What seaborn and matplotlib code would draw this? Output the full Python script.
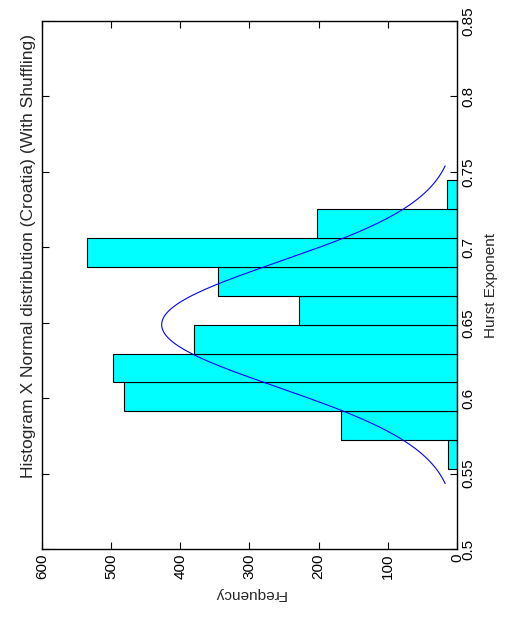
import numpy as np
import pandas as pd
import matplotlib
matplotlib.use("Agg")
import matplotlib.pyplot as plt
import seaborn as sns

# Histogram of Hurst exponents (10 bins) and fitted normal curve
bin_edges = [0.5529, 0.5721, 0.5912, 0.6104, 0.6295, 0.6487,
             0.6678, 0.6870, 0.7061, 0.7253, 0.7444]
bin_counts = [13, 167, 482, 498, 380, 229, 345, 535, 203, 14]

fit_mean = 0.6487
fit_std = 0.0415
fit_peak = 427
curve_start, curve_end = 0.5434, 0.7539

title_text = "Histogram X Normal distribution (Croatia) (With Shuffling)"
hurst_ticks = [0.5, 0.55, 0.6, 0.65, 0.7, 0.75, 0.8, 0.85]
freq_ticks = [0, 100, 200, 300, 400, 500, 600]

sns.set_theme(style="white")
plt.rcParams["font.family"] = ["Liberation Sans", "DejaVu Sans"]
plt.rcParams["font.size"] = 11

centers = [(a + b) / 2 for a, b in zip(bin_edges[:-1], bin_edges[1:])]
hist_df = pd.DataFrame({"hurst": centers, "count": bin_counts})

h = np.linspace(curve_start, curve_end, 300)
curve_df = pd.DataFrame({
    "hurst": h,
    "freq": fit_peak * np.exp(-0.5 * ((h - fit_mean) / fit_std) ** 2),
})

fig, ax = plt.subplots(figsize=(5.05, 6.22), dpi=100)
fig.subplots_adjust(left=42 / 505, right=457 / 505,
                    bottom=1 - 549 / 622, top=1 - 21 / 622)

sns.histplot(data=hist_df, y="hurst", weights="count", bins=bin_edges,
             color="#00ffff", edgecolor="black", linewidth=0.8, alpha=1,
             ax=ax)
sns.lineplot(data=curve_df, x="freq", y="hurst", sort=False,
             color="#0000ff", linewidth=0.8, ax=ax)

ax.set_xlim(600, 0)
ax.set_ylim(0.5, 0.85)
ax.set_xticks(freq_ticks)
ax.set_yticks(hurst_ticks)
ax.set_yticklabels([f"{t:g}" for t in hurst_ticks])

ax.tick_params(axis="both", direction="in", length=5, width=0.8,
               colors="black", labelsize=11, pad=3)
ax.tick_params(axis="x", top=True, bottom=True, labelrotation=90)
ax.tick_params(axis="y", left=True, right=True, labelleft=False,
               labelright=True, labelrotation=90)
for lab in ax.get_yticklabels():
    lab.set_verticalalignment("center")

for s in ax.spines.values():
    s.set_visible(True)
    s.set_color("black")
    s.set_linewidth(1.0)

ax.set_xlabel("Frequency", rotation=180, fontsize=11, labelpad=6)
ax.yaxis.set_label_position("right")
ax.set_ylabel("Hurst Exponent", rotation=90, fontsize=11, labelpad=6)
ax.text(-0.015, 0.555, title_text, transform=ax.transAxes, rotation=90,
        ha="right", va="center", fontsize=12.6)

fig.savefig("out.png", dpi=100, facecolor="white")
